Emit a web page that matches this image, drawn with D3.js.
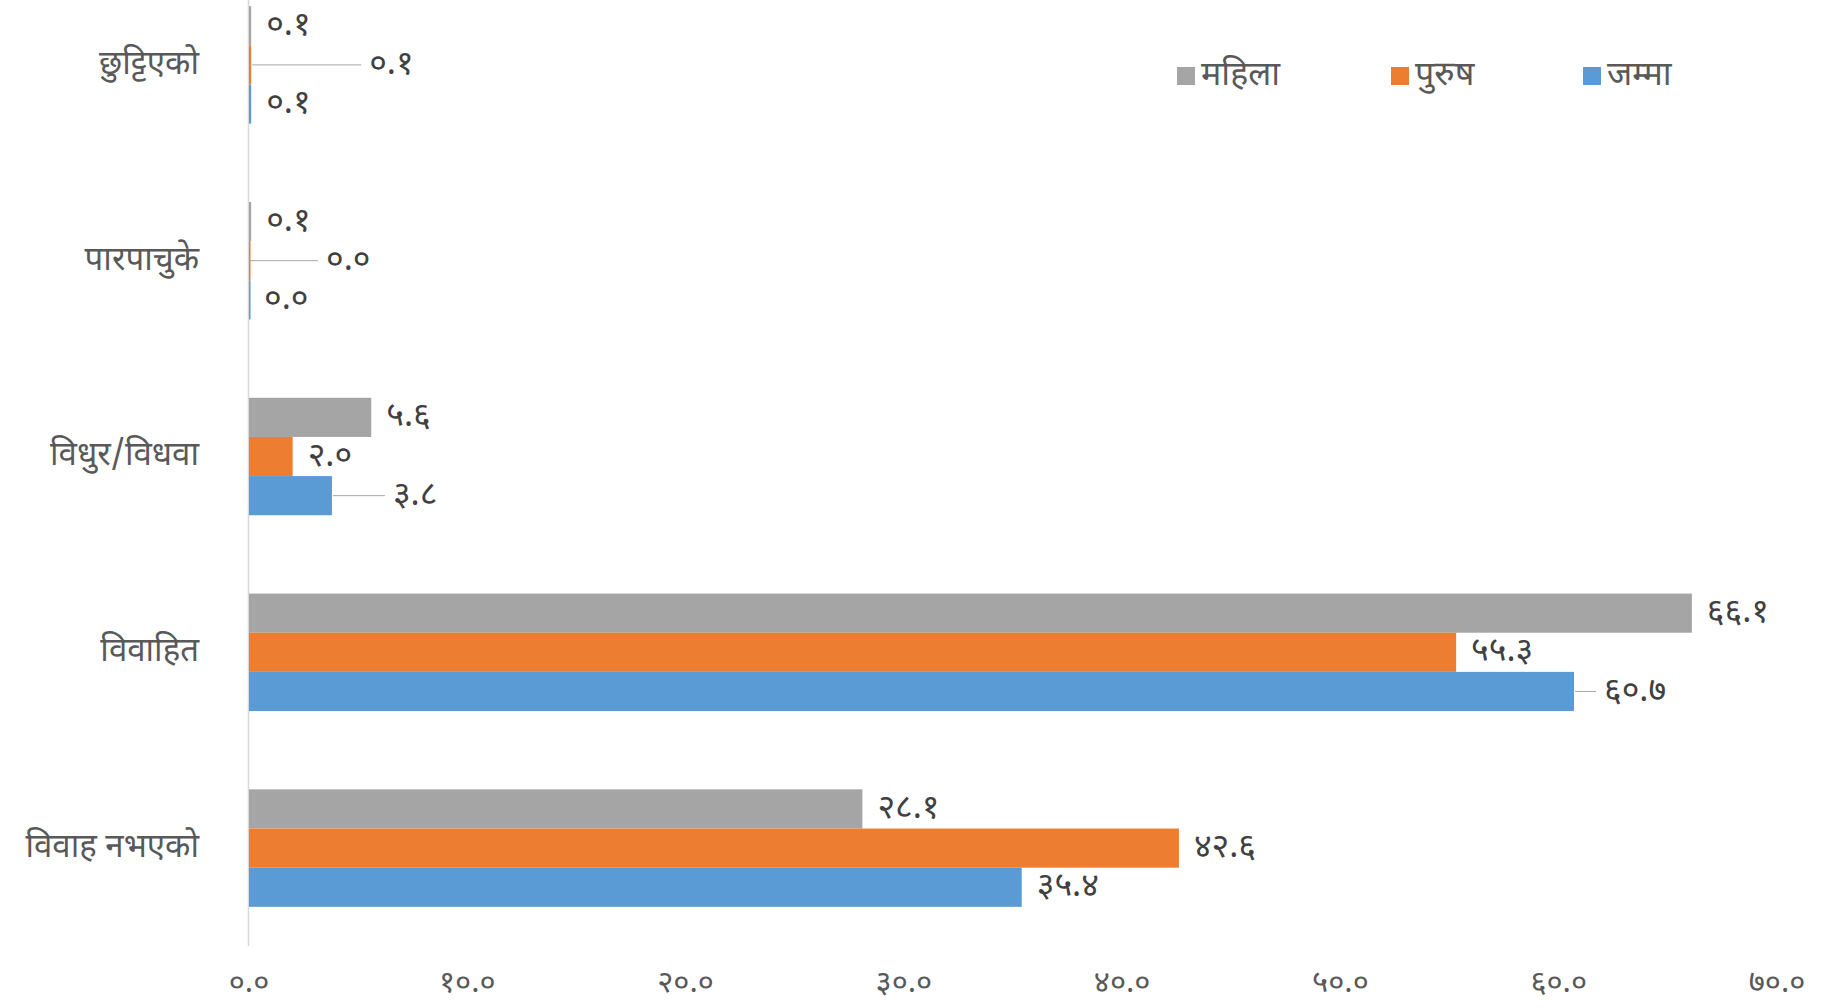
<!DOCTYPE html>
<html>
<head>
<meta charset="utf-8">
<script src="https://cdn.jsdelivr.net/npm/d3@7"></script>
<style>
  body { margin: 0; background: #fff; }
  svg { display: block; }
</style>
</head>
<body>
<div id="chart"></div>
<script>
// categories, top to bottom
const categories = ["छुट्टिएको", "पारपाचुके", "विधुर/विधवा", "विवाहित", "विवाह नभएको"];
const seriesNames = ["महिला", "पुरुष", "जम्मा"];
const female = [0.1, 0.1, 5.6, 66.1, 28.1];
const male = [0.1, 0.0, 2.0, 55.3, 42.6];
const total = [0.1, 0.0, 3.8, 60.7, 35.4];
const xTicks = [0, 10, 20, 30, 40, 50, 60, 70];

const colors = ["#A5A5A5", "#ED7D31", "#5B9BD5"];
const seriesValues = [female, male, total];

const width = 1836;
const height = 1008;
const margin = { top: -33, left: 249, right: 59, bottom: 62 };

// Devanagari digits
const devDigits = "०१२३४५६७८९";
const toDev = s => String(s).replace(/[0-9]/g, c => devDigits[+c]);
const fmt = v => toDev(v.toFixed(1));

// leader lines (label nudges, px) for labels Excel pushed outward
const leader = { "0-1": 110, "1-1": 69, "2-2": 53, "3-2": 22 };

const svg = d3.select("#chart")
    .append("svg")
    .attr("width", width)
    .attr("height", height)
    .attr("font-family", "'Noto Sans Devanagari', 'Lohit Devanagari', 'Noto Sans', sans-serif");

const x = d3.scaleLinear()
    .domain([0, 70])
    .range([margin.left, width - margin.right]);

const y = d3.scaleBand()
    .domain(categories)
    .range([margin.top, height - margin.bottom])
    .paddingInner(0.4)
    .paddingOuter(0.2);

const ySub = d3.scaleBand()
    .domain(d3.range(seriesNames.length))
    .range([0, y.bandwidth()]);

// axis line
svg.append("line")
    .attr("x1", x(0) - 0.5).attr("x2", x(0) - 0.5)
    .attr("y1", 0).attr("y2", height - margin.bottom)
    .attr("stroke", "#D9D9D9")
    .attr("stroke-width", 1.5);

// x tick labels
svg.append("g")
    .selectAll("text")
    .data(xTicks)
    .join("text")
    .attr("x", d => x(d))
    .attr("y", 984)
    .attr("text-anchor", "middle")
    .attr("dominant-baseline", "middle")
    .attr("font-size", 31)
    .attr("fill", "#595959")
    .text(d => fmt(d));

// category labels
svg.append("g")
    .selectAll("text")
    .data(categories)
    .join("text")
    .attr("x", 199)
    .attr("y", d => y(d) + y.bandwidth() / 2)
    .attr("text-anchor", "end")
    .attr("dominant-baseline", "middle")
    .attr("font-size", 33)
    .attr("fill", "#595959")
    .text(d => d);

// bars + labels
const rows = [];
categories.forEach((c, ci) => {
    seriesValues.forEach((vals, si) => {
        rows.push({ cat: c, ci, si, value: vals[ci] });
    });
});

svg.append("g")
    .selectAll("rect")
    .data(rows)
    .join("rect")
    .attr("x", x(0))
    .attr("y", d => y(d.cat) + ySub(d.si))
    .attr("width", d => Math.max(1.5, x(d.value) - x(0)))
    .attr("height", ySub.bandwidth())
    .attr("fill", d => colors[d.si]);

const lbl = svg.append("g")
    .selectAll("g")
    .data(rows)
    .join("g");

lbl.filter(d => leader[d.ci + "-" + d.si])
    .append("line")
    .attr("x1", d => x(d.value) + 1)
    .attr("x2", d => x(d.value) + leader[d.ci + "-" + d.si])
    .attr("y1", d => y(d.cat) + ySub(d.si) + ySub.bandwidth() / 2)
    .attr("y2", d => y(d.cat) + ySub(d.si) + ySub.bandwidth() / 2)
    .attr("stroke", "#A6A6A6")
    .attr("stroke-width", 1);

lbl.append("text")
    .attr("x", d => x(d.value) + (leader[d.ci + "-" + d.si] ? leader[d.ci + "-" + d.si] + 8 : 15))
    .attr("y", d => y(d.cat) + ySub(d.si) + ySub.bandwidth() / 2)
    .attr("dominant-baseline", "middle")
    .attr("font-size", 34)
    .attr("fill", "#404040")
    .text(d => fmt(d.value));

// legend
const legendX = [1177, 1391, 1583];
const legend = svg.append("g")
    .selectAll("g")
    .data(seriesNames)
    .join("g")
    .attr("transform", (d, i) => `translate(${legendX[i]},76)`);

legend.append("rect")
    .attr("x", 0).attr("y", -9)
    .attr("width", 18).attr("height", 18)
    .attr("fill", (d, i) => colors[i]);

legend.append("text")
    .attr("x", 24)
    .attr("y", 0)
    .attr("dominant-baseline", "middle")
    .attr("font-size", 34)
    .attr("fill", "#595959")
    .text(d => d);
</script>
</body>
</html>
